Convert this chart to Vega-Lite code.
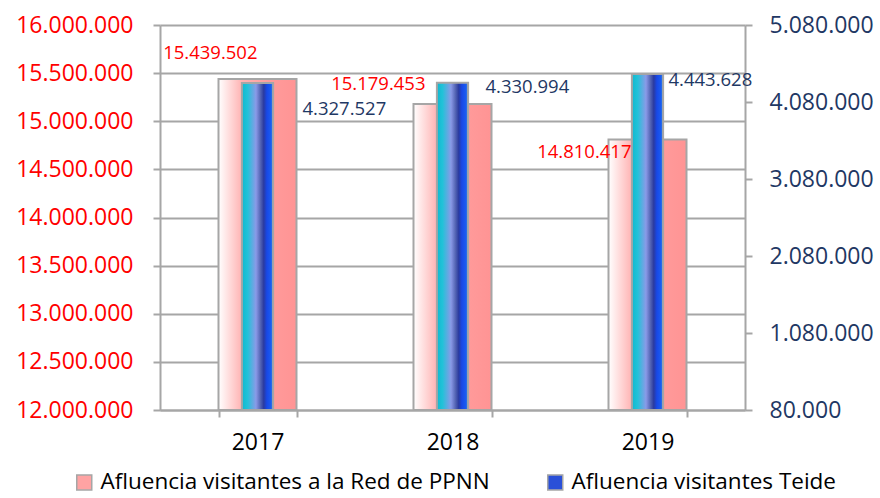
{
  "$schema": "https://vega.github.io/schema/vega-lite/v6.json",
  "width": 585,
  "height": 385,
  "autosize": "none",
  "padding": {"left": 160, "top": 25, "right": 135, "bottom": 88},
  "config": {
    "font": "Open Sans",
    "view": {"stroke": null},
    "locale": {"number": {"decimal": ",", "thousands": ".", "grouping": [3], "currency": ["", " €"]}},
    "axis": {"domainColor": "#A6A6A6", "domainWidth": 2, "tickColor": "#A6A6A6", "tickWidth": 2, "tickSize": 7, "gridColor": "#A6A6A6", "gridWidth": 2, "title": null, "labelFont": "Open Sans", "labelFontSize": 23},
    "legend": {"labelFont": "Open Sans", "labelFontSize": 22.5, "labelColor": "#000000", "symbolType": "square", "symbolSize": 225, "symbolStrokeColor": "#A6A6A6", "symbolStrokeWidth": 1.5, "labelOffset": 5, "columnPadding": 54, "labelLimit": 600}
  },
  "data": {
    "values": [
      {"year": "2017", "ppnn": 15439502, "teide": 4327527},
      {"year": "2018", "ppnn": 15179453, "teide": 4330994},
      {"year": "2019", "ppnn": 14810417, "teide": 4443628}
    ]
  },
  "encoding": {
    "x": {
      "field": "year", "type": "nominal",
      "scale": {"paddingInner": 0.6, "paddingOuter": 0.3},
      "axis": {"labelAngle": 0, "labelColor": "#000000", "tickBand": "extent", "labelPadding": 14, "grid": false}
    }
  },
  "layer": [
    {
      "encoding": {
        "y": {
          "field": "ppnn", "type": "quantitative",
          "scale": {"domain": [12000000, 16000000], "zero": false, "nice": false},
          "axis": {"orient": "left", "values": [12000000, 12500000, 13000000, 13500000, 14000000, 14500000, 15000000, 15500000, 16000000], "format": ",d", "labelColor": "#FF0000", "labelPadding": 20, "grid": true}
        }
      },
      "layer": [
        {
          "mark": {
            "type": "bar", "stroke": "#A6A6A6", "strokeWidth": 2,
            "fill": {"gradient": "linear", "x1": 0, "y1": 0, "x2": 1, "y2": 0, "stops": [{"offset": 0, "color": "#FFFFFF"}, {"offset": 0.3, "color": "#FFB3B3"}, {"offset": 0.7, "color": "#FF9A9A"}, {"offset": 1, "color": "#FF9494"}]}
          },
          "encoding": {"y2": {"datum": 12000000}}
        },
        {
          "mark": {"type": "text", "text": ""},
          "encoding": {
            "color": {
              "datum": "Afluencia visitantes a la Red de PPNN",
              "type": "nominal",
              "scale": {"domain": ["Afluencia visitantes a la Red de PPNN", "Afluencia visitantes Teide"], "range": ["#FFA3A3", "#2A50D8"]},
              "legend": {"title": null, "orient": "none", "direction": "horizontal", "legendX": -87, "legendY": 446}
            }
          }
        },
        {
          "transform": [{"filter": "datum.year == '2017'"}],
          "mark": {"type": "text", "align": "right", "baseline": "middle", "dx": 0, "dy": -26, "fontSize": 18.5, "color": "#FF0000"},
          "encoding": {"text": {"field": "ppnn", "type": "quantitative", "format": ",d"}}
        },
        {
          "transform": [{"filter": "datum.year == '2018'"}],
          "mark": {"type": "text", "align": "right", "baseline": "middle", "dx": -27, "dy": -20, "fontSize": 18.5, "color": "#FF0000"},
          "encoding": {"text": {"field": "ppnn", "type": "quantitative", "format": ",d"}}
        },
        {
          "transform": [{"filter": "datum.year == '2019'"}],
          "mark": {"type": "text", "align": "right", "baseline": "middle", "dx": -16, "dy": 13, "fontSize": 18.5, "color": "#FF0000"},
          "encoding": {"text": {"field": "ppnn", "type": "quantitative", "format": ",d"}}
        }
      ]
    },
    {
      "encoding": {
        "y": {
          "field": "teide", "type": "quantitative",
          "scale": {"domain": [80000, 5080000], "zero": false, "nice": false},
          "axis": {"orient": "right", "values": [80000, 1080000, 2080000, 3080000, 4080000, 5080000], "format": ",d", "labelColor": "#1F3864", "labelPadding": 17, "grid": false}
        }
      },
      "layer": [
        {
          "mark": {
            "type": "bar", "stroke": "#A6A6A6", "strokeWidth": 2, "width": {"band": 0.4},
            "fill": {"gradient": "linear", "x1": 0, "y1": 0, "x2": 1, "y2": 0, "stops": [{"offset": 0, "color": "#10B8D0"}, {"offset": 0.18, "color": "#22C2D8"}, {"offset": 0.45, "color": "#8A9AE8"}, {"offset": 0.6, "color": "#5262B2"}, {"offset": 0.7, "color": "#2A3AA0"}, {"offset": 0.8, "color": "#1848E6"}, {"offset": 0.92, "color": "#1A5AF0"}, {"offset": 1, "color": "#3A88E0"}]}
          },
          "encoding": {"y2": {"datum": 80000}}
        },
        {
          "transform": [{"filter": "datum.year == '2017'"}],
          "mark": {"type": "text", "align": "left", "baseline": "middle", "dx": 45, "dy": 26, "fontSize": 18.5, "color": "#1F3864"},
          "encoding": {"text": {"field": "teide", "type": "quantitative", "format": ",d"}}
        },
        {
          "transform": [{"filter": "datum.year == '2018'"}],
          "mark": {"type": "text", "align": "left", "baseline": "middle", "dx": 33, "dy": 4, "fontSize": 18.5, "color": "#1F3864"},
          "encoding": {"text": {"field": "teide", "type": "quantitative", "format": ",d"}}
        },
        {
          "transform": [{"filter": "datum.year == '2019'"}],
          "mark": {"type": "text", "align": "left", "baseline": "middle", "dx": 21, "dy": 6, "fontSize": 18.5, "color": "#1F3864"},
          "encoding": {"text": {"field": "teide", "type": "quantitative", "format": ",d"}}
        }
      ]
    }
  ],
  "resolve": {"scale": {"y": "independent"}}
}
